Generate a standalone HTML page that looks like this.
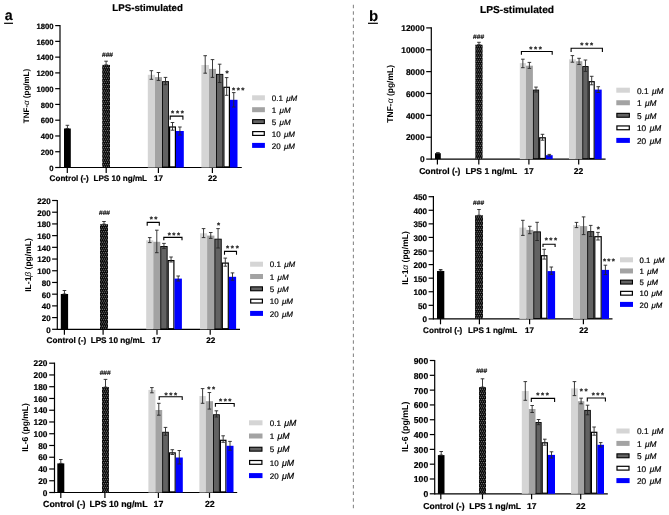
<!DOCTYPE html>
<html><head><meta charset="utf-8"><style>
html,body{margin:0;padding:0;background:#fff;}
body{width:669px;height:515px;overflow:hidden;}
svg{display:block;will-change:transform;}
</style></head><body>
<svg width="669" height="515" viewBox="0 0 669 515" font-family='"Liberation Sans", sans-serif' text-rendering="geometricPrecision">
<defs><pattern id="dots" patternUnits="userSpaceOnUse" width="2.1" height="4.2"><rect width="2.1" height="4.2" fill="#050505"/><circle cx="0.55" cy="0.6" r="0.5" fill="#b0b0b0"/><circle cx="1.6" cy="2.7" r="0.5" fill="#b0b0b0"/></pattern></defs>
<rect width="669" height="515" fill="#fff"/>
<text x="4.8" y="19.8" font-size="14.2" font-weight="bold" text-anchor="start" fill="#000" stroke="#000" stroke-width="0.1" >a</text>
<line x1="4.1" y1="23.3" x2="13" y2="23.3" stroke="#000" stroke-width="1.2" />
<text x="368.9" y="20.6" font-size="15" font-weight="bold" text-anchor="start" fill="#000" stroke="#000" stroke-width="0.1" >b</text>
<line x1="368" y1="23.3" x2="377.9" y2="23.3" stroke="#000" stroke-width="1.2" />
<text x="147.6" y="11.4" font-size="9.7" font-weight="bold" text-anchor="middle" fill="#000" stroke="#000" stroke-width="0.2" >LPS-stimulated</text>
<text x="517" y="12.6" font-size="10.2" font-weight="bold" text-anchor="middle" fill="#000" stroke="#000" stroke-width="0.2" >LPS-stimulated</text>
<line x1="353.4" y1="4.7" x2="353.4" y2="509" stroke="#8a8a8a" stroke-width="1.1" stroke-dasharray="3.5 3.08"/>
<line x1="60" y1="25" x2="60" y2="168.1" stroke="#000" stroke-width="1.2" />
<line x1="55.2" y1="167.5" x2="60" y2="167.5" stroke="#000" stroke-width="1.2" />
<text x="53.6" y="170.77" font-size="7.7" font-weight="bold" text-anchor="end" fill="#000" stroke="#000" stroke-width="0.2" >0</text>
<line x1="55.2" y1="151.73" x2="60" y2="151.73" stroke="#000" stroke-width="1.2" />
<text x="53.6" y="155.01" font-size="7.7" font-weight="bold" text-anchor="end" fill="#000" stroke="#000" stroke-width="0.2" >200</text>
<line x1="55.2" y1="135.97" x2="60" y2="135.97" stroke="#000" stroke-width="1.2" />
<text x="53.6" y="139.24" font-size="7.7" font-weight="bold" text-anchor="end" fill="#000" stroke="#000" stroke-width="0.2" >400</text>
<line x1="55.2" y1="120.2" x2="60" y2="120.2" stroke="#000" stroke-width="1.2" />
<text x="53.6" y="123.47" font-size="7.7" font-weight="bold" text-anchor="end" fill="#000" stroke="#000" stroke-width="0.2" >600</text>
<line x1="55.2" y1="104.43" x2="60" y2="104.43" stroke="#000" stroke-width="1.2" />
<text x="53.6" y="107.71" font-size="7.7" font-weight="bold" text-anchor="end" fill="#000" stroke="#000" stroke-width="0.2" >800</text>
<line x1="55.2" y1="88.67" x2="60" y2="88.67" stroke="#000" stroke-width="1.2" />
<text x="53.6" y="91.94" font-size="7.7" font-weight="bold" text-anchor="end" fill="#000" stroke="#000" stroke-width="0.2" >1000</text>
<line x1="55.2" y1="72.9" x2="60" y2="72.9" stroke="#000" stroke-width="1.2" />
<text x="53.6" y="76.17" font-size="7.7" font-weight="bold" text-anchor="end" fill="#000" stroke="#000" stroke-width="0.2" >1200</text>
<line x1="55.2" y1="57.13" x2="60" y2="57.13" stroke="#000" stroke-width="1.2" />
<text x="53.6" y="60.41" font-size="7.7" font-weight="bold" text-anchor="end" fill="#000" stroke="#000" stroke-width="0.2" >1400</text>
<line x1="55.2" y1="41.37" x2="60" y2="41.37" stroke="#000" stroke-width="1.2" />
<text x="53.6" y="44.64" font-size="7.7" font-weight="bold" text-anchor="end" fill="#000" stroke="#000" stroke-width="0.2" >1600</text>
<line x1="55.2" y1="25.6" x2="60" y2="25.6" stroke="#000" stroke-width="1.2" />
<text x="53.6" y="28.87" font-size="7.7" font-weight="bold" text-anchor="end" fill="#000" stroke="#000" stroke-width="0.2" >1800</text>
<line x1="60" y1="167.5" x2="241.8" y2="167.5" stroke="#000" stroke-width="1.2" />
<line x1="67.3" y1="167.5" x2="67.3" y2="172.9" stroke="#000" stroke-width="1.2" />
<line x1="106.2" y1="167.5" x2="106.2" y2="172.9" stroke="#000" stroke-width="1.2" />
<line x1="158.4" y1="167.5" x2="158.4" y2="172.9" stroke="#000" stroke-width="1.2" />
<line x1="212.4" y1="167.5" x2="212.4" y2="172.9" stroke="#000" stroke-width="1.2" />
<text x="49.6" y="181" font-size="8.1" font-weight="bold" text-anchor="start" fill="#000" stroke="#000" stroke-width="0.2" >Control (-)</text>
<text x="93.5" y="181" font-size="8.1" font-weight="bold" text-anchor="start" fill="#000" stroke="#000" stroke-width="0.2" >LPS 10 ng/mL</text>
<text x="158.4" y="181" font-size="8.1" font-weight="bold" text-anchor="middle" fill="#000" stroke="#000" stroke-width="0.2" >17</text>
<text x="212.5" y="181" font-size="8.1" font-weight="bold" text-anchor="middle" fill="#000" stroke="#000" stroke-width="0.2" >22</text>
<text transform="translate(29,96) rotate(-90)" x="0" y="0" font-size="8" font-weight="bold" text-anchor="middle">TNF-<tspan font-style="italic" font-weight="normal">α</tspan> (pg/mL)</text>
<rect x="64" y="128.5" width="6.8" height="39" fill="#000"/>
<line x1="67.4" y1="125.3" x2="67.4" y2="128.5" stroke="#262626" stroke-width="0.9" />
<line x1="65.6" y1="125.3" x2="69.2" y2="125.3" stroke="#262626" stroke-width="0.9" />
<line x1="65.6" y1="128.5" x2="69.2" y2="128.5" stroke="#262626" stroke-width="0.9" />
<rect x="102.2" y="64.9" width="7.8" height="102.6" fill="url(#dots)"/>
<line x1="106.1" y1="61.2" x2="106.1" y2="64.9" stroke="#262626" stroke-width="0.9" />
<line x1="104.3" y1="61.2" x2="107.9" y2="61.2" stroke="#262626" stroke-width="0.9" />
<line x1="104.3" y1="64.9" x2="107.9" y2="64.9" stroke="#262626" stroke-width="0.9" />
<text x="107.5" y="56.74" font-size="6.6" font-weight="normal" text-anchor="middle" fill="#111" stroke="#111" stroke-width="0.2" >###</text>
<rect x="147.8" y="74.8" width="7.2" height="92.7" fill="#d5d5d5"/>
<line x1="151.4" y1="70.7" x2="151.4" y2="79.3" stroke="#262626" stroke-width="0.9" />
<line x1="149.6" y1="70.7" x2="153.2" y2="70.7" stroke="#262626" stroke-width="0.9" />
<line x1="149.6" y1="79.3" x2="153.2" y2="79.3" stroke="#262626" stroke-width="0.9" />
<rect x="155" y="77.1" width="7" height="90.4" fill="#a3a3a3"/>
<line x1="158.5" y1="72.5" x2="158.5" y2="80.4" stroke="#262626" stroke-width="0.9" />
<line x1="156.7" y1="72.5" x2="160.3" y2="72.5" stroke="#262626" stroke-width="0.9" />
<line x1="156.7" y1="80.4" x2="160.3" y2="80.4" stroke="#262626" stroke-width="0.9" />
<rect x="162.45" y="81.65" width="6.1" height="85.4" fill="#626262" stroke="#000" stroke-width="0.9"/>
<line x1="165.5" y1="77.4" x2="165.5" y2="84.7" stroke="#262626" stroke-width="0.9" />
<line x1="163.7" y1="77.4" x2="167.3" y2="77.4" stroke="#262626" stroke-width="0.9" />
<line x1="163.7" y1="84.7" x2="167.3" y2="84.7" stroke="#262626" stroke-width="0.9" />
<rect x="169.6" y="127" width="5.8" height="39.9" fill="#fff" stroke="#000" stroke-width="1.2"/>
<line x1="172.5" y1="122.5" x2="172.5" y2="130.2" stroke="#262626" stroke-width="0.9" />
<line x1="170.7" y1="122.5" x2="174.3" y2="122.5" stroke="#262626" stroke-width="0.9" />
<line x1="170.7" y1="130.2" x2="174.3" y2="130.2" stroke="#262626" stroke-width="0.9" />
<rect x="176" y="131" width="7.8" height="36.5" fill="#0000ff"/>
<line x1="179.9" y1="127" x2="179.9" y2="135" stroke="#262626" stroke-width="0.9" />
<line x1="178.1" y1="127" x2="181.7" y2="127" stroke="#262626" stroke-width="0.9" />
<line x1="178.1" y1="135" x2="181.7" y2="135" stroke="#262626" stroke-width="0.9" />
<rect x="201.4" y="65" width="7.6" height="102.5" fill="#d5d5d5"/>
<line x1="205.2" y1="55.7" x2="205.2" y2="73.2" stroke="#262626" stroke-width="0.9" />
<line x1="203.4" y1="55.7" x2="207" y2="55.7" stroke="#262626" stroke-width="0.9" />
<line x1="203.4" y1="73.2" x2="207" y2="73.2" stroke="#262626" stroke-width="0.9" />
<rect x="209" y="68.9" width="7" height="98.6" fill="#a3a3a3"/>
<line x1="212.5" y1="59.6" x2="212.5" y2="77.4" stroke="#262626" stroke-width="0.9" />
<line x1="210.7" y1="59.6" x2="214.3" y2="59.6" stroke="#262626" stroke-width="0.9" />
<line x1="210.7" y1="77.4" x2="214.3" y2="77.4" stroke="#262626" stroke-width="0.9" />
<rect x="216.45" y="74.35" width="6.4" height="92.7" fill="#626262" stroke="#000" stroke-width="0.9"/>
<line x1="219.65" y1="64.2" x2="219.65" y2="82.5" stroke="#262626" stroke-width="0.9" />
<line x1="217.85" y1="64.2" x2="221.45" y2="64.2" stroke="#262626" stroke-width="0.9" />
<line x1="217.85" y1="82.5" x2="221.45" y2="82.5" stroke="#262626" stroke-width="0.9" />
<rect x="223.9" y="87.3" width="5.5" height="79.6" fill="#fff" stroke="#000" stroke-width="1.2"/>
<line x1="226.65" y1="77.6" x2="226.65" y2="95.3" stroke="#262626" stroke-width="0.9" />
<line x1="224.85" y1="77.6" x2="228.45" y2="77.6" stroke="#262626" stroke-width="0.9" />
<line x1="224.85" y1="95.3" x2="228.45" y2="95.3" stroke="#262626" stroke-width="0.9" />
<rect x="230" y="99.8" width="7.5" height="67.7" fill="#0000ff"/>
<line x1="233.75" y1="92.6" x2="233.75" y2="107" stroke="#262626" stroke-width="0.9" />
<line x1="231.95" y1="92.6" x2="235.55" y2="92.6" stroke="#262626" stroke-width="0.9" />
<line x1="231.95" y1="107" x2="235.55" y2="107" stroke="#262626" stroke-width="0.9" />
<path d="M170.2 119.8V116.1H182.9V119.8" fill="none" stroke="#000" stroke-width="1.1"/>
<text x="172.6" y="115.9" font-size="8" font-weight="bold" text-anchor="middle" fill="#1a1a1a" stroke="#1a1a1a" stroke-width="0.2" >*</text>
<text x="177.5" y="115.9" font-size="8" font-weight="bold" text-anchor="middle" fill="#1a1a1a" stroke="#1a1a1a" stroke-width="0.2" >*</text>
<text x="182.4" y="115.9" font-size="8" font-weight="bold" text-anchor="middle" fill="#1a1a1a" stroke="#1a1a1a" stroke-width="0.2" >*</text>
<text x="227.1" y="76.3" font-size="8" font-weight="bold" text-anchor="middle" fill="#1a1a1a" stroke="#1a1a1a" stroke-width="0.2" >*</text>
<text x="233.55" y="92.6" font-size="8" font-weight="bold" text-anchor="middle" fill="#1a1a1a" stroke="#1a1a1a" stroke-width="0.2" >*</text>
<text x="238.2" y="92.6" font-size="8" font-weight="bold" text-anchor="middle" fill="#1a1a1a" stroke="#1a1a1a" stroke-width="0.2" >*</text>
<text x="242.85" y="92.6" font-size="8" font-weight="bold" text-anchor="middle" fill="#1a1a1a" stroke="#1a1a1a" stroke-width="0.2" >*</text>
<rect x="252.1" y="95.3" width="12.8" height="5" fill="#d5d5d5"/>
<text x="271.8" y="101.08" font-size="8" fill="#000" stroke="#000" stroke-width="0.2">0.1 <tspan dx="1.04" font-size="8" font-style="italic">μM</tspan></text>
<rect x="252.1" y="107.2" width="12.8" height="5" fill="#a3a3a3"/>
<text x="271.8" y="112.98" font-size="8" fill="#000" stroke="#000" stroke-width="0.2">1 <tspan dx="1.04" font-size="8" font-style="italic">μM</tspan></text>
<rect x="252.65" y="119.65" width="11.7" height="3.9" fill="#626262" stroke="#000" stroke-width="1.1"/>
<text x="271.8" y="124.88" font-size="8" fill="#000" stroke="#000" stroke-width="0.2">5 <tspan dx="1.04" font-size="8" font-style="italic">μM</tspan></text>
<rect x="252.7" y="131.6" width="11.6" height="3.8" fill="#fff" stroke="#000" stroke-width="1.2"/>
<text x="271.8" y="136.78" font-size="8" fill="#000" stroke="#000" stroke-width="0.2">10 <tspan dx="1.04" font-size="8" font-style="italic">μM</tspan></text>
<rect x="252.1" y="142.9" width="12.8" height="5" fill="#0000ff"/>
<text x="271.8" y="148.68" font-size="8" fill="#000" stroke="#000" stroke-width="0.2">20 <tspan dx="1.04" font-size="8" font-style="italic">μM</tspan></text>
<line x1="57.3" y1="199.9" x2="57.3" y2="329.9" stroke="#000" stroke-width="1.2" />
<line x1="52.1" y1="329.3" x2="57.3" y2="329.3" stroke="#000" stroke-width="1.2" />
<text x="50.6" y="332.68" font-size="8" font-weight="bold" text-anchor="end" fill="#000" stroke="#000" stroke-width="0.2" >0</text>
<line x1="52.1" y1="317.59" x2="57.3" y2="317.59" stroke="#000" stroke-width="1.2" />
<text x="50.6" y="320.97" font-size="8" font-weight="bold" text-anchor="end" fill="#000" stroke="#000" stroke-width="0.2" >20</text>
<line x1="52.1" y1="305.88" x2="57.3" y2="305.88" stroke="#000" stroke-width="1.2" />
<text x="50.6" y="309.26" font-size="8" font-weight="bold" text-anchor="end" fill="#000" stroke="#000" stroke-width="0.2" >40</text>
<line x1="52.1" y1="294.17" x2="57.3" y2="294.17" stroke="#000" stroke-width="1.2" />
<text x="50.6" y="297.55" font-size="8" font-weight="bold" text-anchor="end" fill="#000" stroke="#000" stroke-width="0.2" >60</text>
<line x1="52.1" y1="282.46" x2="57.3" y2="282.46" stroke="#000" stroke-width="1.2" />
<text x="50.6" y="285.84" font-size="8" font-weight="bold" text-anchor="end" fill="#000" stroke="#000" stroke-width="0.2" >80</text>
<line x1="52.1" y1="270.75" x2="57.3" y2="270.75" stroke="#000" stroke-width="1.2" />
<text x="50.6" y="274.13" font-size="8" font-weight="bold" text-anchor="end" fill="#000" stroke="#000" stroke-width="0.2" >100</text>
<line x1="52.1" y1="259.05" x2="57.3" y2="259.05" stroke="#000" stroke-width="1.2" />
<text x="50.6" y="262.43" font-size="8" font-weight="bold" text-anchor="end" fill="#000" stroke="#000" stroke-width="0.2" >120</text>
<line x1="52.1" y1="247.34" x2="57.3" y2="247.34" stroke="#000" stroke-width="1.2" />
<text x="50.6" y="250.72" font-size="8" font-weight="bold" text-anchor="end" fill="#000" stroke="#000" stroke-width="0.2" >140</text>
<line x1="52.1" y1="235.63" x2="57.3" y2="235.63" stroke="#000" stroke-width="1.2" />
<text x="50.6" y="239.01" font-size="8" font-weight="bold" text-anchor="end" fill="#000" stroke="#000" stroke-width="0.2" >160</text>
<line x1="52.1" y1="223.92" x2="57.3" y2="223.92" stroke="#000" stroke-width="1.2" />
<text x="50.6" y="227.3" font-size="8" font-weight="bold" text-anchor="end" fill="#000" stroke="#000" stroke-width="0.2" >180</text>
<line x1="52.1" y1="212.21" x2="57.3" y2="212.21" stroke="#000" stroke-width="1.2" />
<text x="50.6" y="215.59" font-size="8" font-weight="bold" text-anchor="end" fill="#000" stroke="#000" stroke-width="0.2" >200</text>
<line x1="52.1" y1="200.5" x2="57.3" y2="200.5" stroke="#000" stroke-width="1.2" />
<text x="50.6" y="203.88" font-size="8" font-weight="bold" text-anchor="end" fill="#000" stroke="#000" stroke-width="0.2" >220</text>
<line x1="57.3" y1="329.3" x2="240" y2="329.3" stroke="#000" stroke-width="1.2" />
<line x1="64.4" y1="329.3" x2="64.4" y2="334.7" stroke="#000" stroke-width="1.2" />
<line x1="103.1" y1="329.3" x2="103.1" y2="334.7" stroke="#000" stroke-width="1.2" />
<line x1="157" y1="329.3" x2="157" y2="334.7" stroke="#000" stroke-width="1.2" />
<line x1="210.2" y1="329.3" x2="210.2" y2="334.7" stroke="#000" stroke-width="1.2" />
<text x="46.6" y="343.3" font-size="8.2" font-weight="bold" text-anchor="start" fill="#000" stroke="#000" stroke-width="0.2" >Control (-)</text>
<text x="90.65" y="343.3" font-size="8.2" font-weight="bold" text-anchor="start" fill="#000" stroke="#000" stroke-width="0.2" >LPS 10 ng/mL</text>
<text x="156.6" y="343.3" font-size="8.2" font-weight="bold" text-anchor="middle" fill="#000" stroke="#000" stroke-width="0.2" >17</text>
<text x="210.85" y="343.3" font-size="8.2" font-weight="bold" text-anchor="middle" fill="#000" stroke="#000" stroke-width="0.2" >22</text>
<text transform="translate(31.4,265) rotate(-90)" x="0" y="0" font-size="8.5" font-weight="bold" text-anchor="middle">IL-1<tspan font-style="italic" font-weight="normal">β</tspan> (pg/mL)</text>
<rect x="60.8" y="294" width="7.3" height="35.3" fill="#000"/>
<line x1="64.45" y1="290.5" x2="64.45" y2="294" stroke="#262626" stroke-width="0.9" />
<line x1="62.65" y1="290.5" x2="66.25" y2="290.5" stroke="#262626" stroke-width="0.9" />
<line x1="62.65" y1="294" x2="66.25" y2="294" stroke="#262626" stroke-width="0.9" />
<rect x="100" y="224.2" width="8" height="105.1" fill="url(#dots)"/>
<line x1="104" y1="221.5" x2="104" y2="224.2" stroke="#262626" stroke-width="0.9" />
<line x1="102.2" y1="221.5" x2="105.8" y2="221.5" stroke="#262626" stroke-width="0.9" />
<line x1="102.2" y1="224.2" x2="105.8" y2="224.2" stroke="#262626" stroke-width="0.9" />
<text x="104.5" y="215.44" font-size="6.6" font-weight="normal" text-anchor="middle" fill="#111" stroke="#111" stroke-width="0.2" >###</text>
<rect x="146.2" y="240.3" width="7.1" height="89" fill="#d5d5d5"/>
<line x1="149.75" y1="237.6" x2="149.75" y2="242.6" stroke="#262626" stroke-width="0.9" />
<line x1="147.95" y1="237.6" x2="151.55" y2="237.6" stroke="#262626" stroke-width="0.9" />
<line x1="147.95" y1="242.6" x2="151.55" y2="242.6" stroke="#262626" stroke-width="0.9" />
<rect x="153.3" y="241.8" width="7" height="87.5" fill="#a3a3a3"/>
<line x1="156.8" y1="230.2" x2="156.8" y2="252.7" stroke="#262626" stroke-width="0.9" />
<line x1="155" y1="230.2" x2="158.6" y2="230.2" stroke="#262626" stroke-width="0.9" />
<line x1="155" y1="252.7" x2="158.6" y2="252.7" stroke="#262626" stroke-width="0.9" />
<rect x="160.75" y="246.45" width="6.4" height="82.4" fill="#626262" stroke="#000" stroke-width="0.9"/>
<line x1="163.95" y1="243.4" x2="163.95" y2="248.4" stroke="#262626" stroke-width="0.9" />
<line x1="162.15" y1="243.4" x2="165.75" y2="243.4" stroke="#262626" stroke-width="0.9" />
<line x1="162.15" y1="248.4" x2="165.75" y2="248.4" stroke="#262626" stroke-width="0.9" />
<rect x="168.2" y="260.6" width="5.7" height="68.1" fill="#fff" stroke="#000" stroke-width="1.2"/>
<line x1="171.05" y1="257" x2="171.05" y2="262" stroke="#262626" stroke-width="0.9" />
<line x1="169.25" y1="257" x2="172.85" y2="257" stroke="#262626" stroke-width="0.9" />
<line x1="169.25" y1="262" x2="172.85" y2="262" stroke="#262626" stroke-width="0.9" />
<rect x="174.5" y="278.6" width="7.4" height="50.7" fill="#0000ff"/>
<line x1="178.2" y1="276" x2="178.2" y2="281" stroke="#262626" stroke-width="0.9" />
<line x1="176.4" y1="276" x2="180" y2="276" stroke="#262626" stroke-width="0.9" />
<line x1="176.4" y1="281" x2="180" y2="281" stroke="#262626" stroke-width="0.9" />
<rect x="200" y="233.3" width="7.1" height="96" fill="#d5d5d5"/>
<line x1="203.55" y1="228.6" x2="203.55" y2="237.6" stroke="#262626" stroke-width="0.9" />
<line x1="201.75" y1="228.6" x2="205.35" y2="228.6" stroke="#262626" stroke-width="0.9" />
<line x1="201.75" y1="237.6" x2="205.35" y2="237.6" stroke="#262626" stroke-width="0.9" />
<rect x="207.1" y="235.6" width="7.3" height="93.7" fill="#a3a3a3"/>
<line x1="210.75" y1="232.5" x2="210.75" y2="238.4" stroke="#262626" stroke-width="0.9" />
<line x1="208.95" y1="232.5" x2="212.55" y2="232.5" stroke="#262626" stroke-width="0.9" />
<line x1="208.95" y1="238.4" x2="212.55" y2="238.4" stroke="#262626" stroke-width="0.9" />
<rect x="214.85" y="239.15" width="6.4" height="89.7" fill="#626262" stroke="#000" stroke-width="0.9"/>
<line x1="218.05" y1="228.6" x2="218.05" y2="248" stroke="#262626" stroke-width="0.9" />
<line x1="216.25" y1="228.6" x2="219.85" y2="228.6" stroke="#262626" stroke-width="0.9" />
<line x1="216.25" y1="248" x2="219.85" y2="248" stroke="#262626" stroke-width="0.9" />
<rect x="222.3" y="263.1" width="6" height="65.6" fill="#fff" stroke="#000" stroke-width="1.2"/>
<line x1="225.3" y1="258.1" x2="225.3" y2="266.2" stroke="#262626" stroke-width="0.9" />
<line x1="223.5" y1="258.1" x2="227.1" y2="258.1" stroke="#262626" stroke-width="0.9" />
<line x1="223.5" y1="266.2" x2="227.1" y2="266.2" stroke="#262626" stroke-width="0.9" />
<rect x="228.9" y="276.8" width="7.2" height="52.5" fill="#0000ff"/>
<line x1="232.5" y1="272.9" x2="232.5" y2="280.2" stroke="#262626" stroke-width="0.9" />
<line x1="230.7" y1="272.9" x2="234.3" y2="272.9" stroke="#262626" stroke-width="0.9" />
<line x1="230.7" y1="280.2" x2="234.3" y2="280.2" stroke="#262626" stroke-width="0.9" />
<path d="M147.2 225.8V222.4H159.3V225.8" fill="none" stroke="#000" stroke-width="1.1"/>
<text x="151.4" y="222.4" font-size="8" font-weight="bold" text-anchor="middle" fill="#1a1a1a" stroke="#1a1a1a" stroke-width="0.2" >*</text>
<text x="155.8" y="222.4" font-size="8" font-weight="bold" text-anchor="middle" fill="#1a1a1a" stroke="#1a1a1a" stroke-width="0.2" >*</text>
<path d="M163.8 240.2V237.4H182V240.2" fill="none" stroke="#000" stroke-width="1.1"/>
<text x="169.25" y="237.9" font-size="8" font-weight="bold" text-anchor="middle" fill="#1a1a1a" stroke="#1a1a1a" stroke-width="0.2" >*</text>
<text x="173.9" y="237.9" font-size="8" font-weight="bold" text-anchor="middle" fill="#1a1a1a" stroke="#1a1a1a" stroke-width="0.2" >*</text>
<text x="178.55" y="237.9" font-size="8" font-weight="bold" text-anchor="middle" fill="#1a1a1a" stroke="#1a1a1a" stroke-width="0.2" >*</text>
<text x="218.6" y="227.7" font-size="8" font-weight="bold" text-anchor="middle" fill="#1a1a1a" stroke="#1a1a1a" stroke-width="0.2" >*</text>
<path d="M224.5 254.7V251.4H236.5V254.7" fill="none" stroke="#000" stroke-width="1.1"/>
<text x="227.5" y="251" font-size="8" font-weight="bold" text-anchor="middle" fill="#1a1a1a" stroke="#1a1a1a" stroke-width="0.2" >*</text>
<text x="232.4" y="251" font-size="8" font-weight="bold" text-anchor="middle" fill="#1a1a1a" stroke="#1a1a1a" stroke-width="0.2" >*</text>
<text x="237.3" y="251" font-size="8" font-weight="bold" text-anchor="middle" fill="#1a1a1a" stroke="#1a1a1a" stroke-width="0.2" >*</text>
<rect x="250.1" y="261.7" width="12.9" height="5" fill="#d5d5d5"/>
<text x="269.8" y="267.48" font-size="8" fill="#000" stroke="#000" stroke-width="0.2">0.1 <tspan dx="1.04" font-size="8" font-style="italic">μM</tspan></text>
<rect x="250.1" y="274" width="12.9" height="5" fill="#a3a3a3"/>
<text x="269.8" y="279.78" font-size="8" fill="#000" stroke="#000" stroke-width="0.2">1 <tspan dx="1.04" font-size="8" font-style="italic">μM</tspan></text>
<rect x="250.65" y="286.85" width="11.8" height="3.9" fill="#626262" stroke="#000" stroke-width="1.1"/>
<text x="269.8" y="292.08" font-size="8" fill="#000" stroke="#000" stroke-width="0.2">5 <tspan dx="1.04" font-size="8" font-style="italic">μM</tspan></text>
<rect x="250.7" y="299.2" width="11.7" height="3.8" fill="#fff" stroke="#000" stroke-width="1.2"/>
<text x="269.8" y="304.38" font-size="8" fill="#000" stroke="#000" stroke-width="0.2">10 <tspan dx="1.04" font-size="8" font-style="italic">μM</tspan></text>
<rect x="250.1" y="310.9" width="12.9" height="5" fill="#0000ff"/>
<text x="269.8" y="316.68" font-size="8" fill="#000" stroke="#000" stroke-width="0.2">20 <tspan dx="1.04" font-size="8" font-style="italic">μM</tspan></text>
<line x1="54.5" y1="362.6" x2="54.5" y2="493.1" stroke="#000" stroke-width="1.2" />
<line x1="49.2" y1="492.5" x2="54.5" y2="492.5" stroke="#000" stroke-width="1.2" />
<text x="47.4" y="495.59" font-size="8.3" font-weight="bold" text-anchor="end" fill="#000" stroke="#000" stroke-width="0.2" >0</text>
<line x1="49.2" y1="480.75" x2="54.5" y2="480.75" stroke="#000" stroke-width="1.2" />
<text x="47.4" y="483.83" font-size="8.3" font-weight="bold" text-anchor="end" fill="#000" stroke="#000" stroke-width="0.2" >20</text>
<line x1="49.2" y1="468.99" x2="54.5" y2="468.99" stroke="#000" stroke-width="1.2" />
<text x="47.4" y="472.08" font-size="8.3" font-weight="bold" text-anchor="end" fill="#000" stroke="#000" stroke-width="0.2" >40</text>
<line x1="49.2" y1="457.24" x2="54.5" y2="457.24" stroke="#000" stroke-width="1.2" />
<text x="47.4" y="460.32" font-size="8.3" font-weight="bold" text-anchor="end" fill="#000" stroke="#000" stroke-width="0.2" >60</text>
<line x1="49.2" y1="445.48" x2="54.5" y2="445.48" stroke="#000" stroke-width="1.2" />
<text x="47.4" y="448.57" font-size="8.3" font-weight="bold" text-anchor="end" fill="#000" stroke="#000" stroke-width="0.2" >80</text>
<line x1="49.2" y1="433.73" x2="54.5" y2="433.73" stroke="#000" stroke-width="1.2" />
<text x="47.4" y="436.82" font-size="8.3" font-weight="bold" text-anchor="end" fill="#000" stroke="#000" stroke-width="0.2" >100</text>
<line x1="49.2" y1="421.97" x2="54.5" y2="421.97" stroke="#000" stroke-width="1.2" />
<text x="47.4" y="425.06" font-size="8.3" font-weight="bold" text-anchor="end" fill="#000" stroke="#000" stroke-width="0.2" >120</text>
<line x1="49.2" y1="410.22" x2="54.5" y2="410.22" stroke="#000" stroke-width="1.2" />
<text x="47.4" y="413.31" font-size="8.3" font-weight="bold" text-anchor="end" fill="#000" stroke="#000" stroke-width="0.2" >140</text>
<line x1="49.2" y1="398.46" x2="54.5" y2="398.46" stroke="#000" stroke-width="1.2" />
<text x="47.4" y="401.55" font-size="8.3" font-weight="bold" text-anchor="end" fill="#000" stroke="#000" stroke-width="0.2" >160</text>
<line x1="49.2" y1="386.71" x2="54.5" y2="386.71" stroke="#000" stroke-width="1.2" />
<text x="47.4" y="389.8" font-size="8.3" font-weight="bold" text-anchor="end" fill="#000" stroke="#000" stroke-width="0.2" >180</text>
<line x1="49.2" y1="374.95" x2="54.5" y2="374.95" stroke="#000" stroke-width="1.2" />
<text x="47.4" y="378.04" font-size="8.3" font-weight="bold" text-anchor="end" fill="#000" stroke="#000" stroke-width="0.2" >200</text>
<line x1="49.2" y1="363.2" x2="54.5" y2="363.2" stroke="#000" stroke-width="1.2" />
<text x="47.4" y="366.29" font-size="8.3" font-weight="bold" text-anchor="end" fill="#000" stroke="#000" stroke-width="0.2" >220</text>
<line x1="54.5" y1="492.5" x2="237.2" y2="492.5" stroke="#000" stroke-width="1.2" />
<line x1="60.8" y1="492.5" x2="60.8" y2="497.9" stroke="#000" stroke-width="1.2" />
<line x1="104.9" y1="492.5" x2="104.9" y2="497.9" stroke="#000" stroke-width="1.2" />
<line x1="158.4" y1="492.5" x2="158.4" y2="497.9" stroke="#000" stroke-width="1.2" />
<line x1="209.5" y1="492.5" x2="209.5" y2="497.9" stroke="#000" stroke-width="1.2" />
<text x="43.05" y="507" font-size="8.8" font-weight="bold" text-anchor="start" fill="#000" stroke="#000" stroke-width="0.2" >Control (-)</text>
<text x="89.4" y="507" font-size="8.8" font-weight="bold" text-anchor="start" fill="#000" stroke="#000" stroke-width="0.2" >LPS 10 ng/mL</text>
<text x="158.45" y="507" font-size="8.8" font-weight="bold" text-anchor="middle" fill="#000" stroke="#000" stroke-width="0.2" >17</text>
<text x="209.85" y="507" font-size="8.8" font-weight="bold" text-anchor="middle" fill="#000" stroke="#000" stroke-width="0.2" >22</text>
<text transform="translate(27.5,427.5) rotate(-90)" x="0" y="0" font-size="8.5" font-weight="bold" text-anchor="middle">IL-6 (pg/mL)</text>
<rect x="57.3" y="463.4" width="7" height="29.1" fill="#000"/>
<line x1="60.8" y1="459.5" x2="60.8" y2="463.4" stroke="#262626" stroke-width="0.9" />
<line x1="59" y1="459.5" x2="62.6" y2="459.5" stroke="#262626" stroke-width="0.9" />
<line x1="59" y1="463.4" x2="62.6" y2="463.4" stroke="#262626" stroke-width="0.9" />
<rect x="102" y="387.1" width="7" height="105.4" fill="url(#dots)"/>
<line x1="105.5" y1="379.4" x2="105.5" y2="387.1" stroke="#262626" stroke-width="0.9" />
<line x1="103.7" y1="379.4" x2="107.3" y2="379.4" stroke="#262626" stroke-width="0.9" />
<line x1="103.7" y1="387.1" x2="107.3" y2="387.1" stroke="#262626" stroke-width="0.9" />
<text x="105.2" y="375.44" font-size="6.6" font-weight="normal" text-anchor="middle" fill="#111" stroke="#111" stroke-width="0.2" >###</text>
<rect x="148.4" y="389.9" width="7" height="102.6" fill="#d5d5d5"/>
<line x1="151.9" y1="387.6" x2="151.9" y2="392.8" stroke="#262626" stroke-width="0.9" />
<line x1="150.1" y1="387.6" x2="153.7" y2="387.6" stroke="#262626" stroke-width="0.9" />
<line x1="150.1" y1="392.8" x2="153.7" y2="392.8" stroke="#262626" stroke-width="0.9" />
<rect x="155.4" y="410" width="6.8" height="82.5" fill="#a3a3a3"/>
<line x1="158.8" y1="403.3" x2="158.8" y2="415.2" stroke="#262626" stroke-width="0.9" />
<line x1="157" y1="403.3" x2="160.6" y2="403.3" stroke="#262626" stroke-width="0.9" />
<line x1="157" y1="415.2" x2="160.6" y2="415.2" stroke="#262626" stroke-width="0.9" />
<rect x="162.65" y="432.25" width="5.7" height="59.8" fill="#626262" stroke="#000" stroke-width="0.9"/>
<line x1="165.5" y1="427.4" x2="165.5" y2="435.3" stroke="#262626" stroke-width="0.9" />
<line x1="163.7" y1="427.4" x2="167.3" y2="427.4" stroke="#262626" stroke-width="0.9" />
<line x1="163.7" y1="435.3" x2="167.3" y2="435.3" stroke="#262626" stroke-width="0.9" />
<rect x="169.4" y="452.9" width="5.8" height="39" fill="#fff" stroke="#000" stroke-width="1.2"/>
<line x1="172.3" y1="449.7" x2="172.3" y2="454.5" stroke="#262626" stroke-width="0.9" />
<line x1="170.5" y1="449.7" x2="174.1" y2="449.7" stroke="#262626" stroke-width="0.9" />
<line x1="170.5" y1="454.5" x2="174.1" y2="454.5" stroke="#262626" stroke-width="0.9" />
<rect x="175.8" y="457.5" width="7" height="35" fill="#0000ff"/>
<line x1="179.3" y1="450.5" x2="179.3" y2="464" stroke="#262626" stroke-width="0.9" />
<line x1="177.5" y1="450.5" x2="181.1" y2="450.5" stroke="#262626" stroke-width="0.9" />
<line x1="177.5" y1="464" x2="181.1" y2="464" stroke="#262626" stroke-width="0.9" />
<rect x="199.4" y="396" width="6.4" height="96.5" fill="#d5d5d5"/>
<line x1="202.6" y1="388.6" x2="202.6" y2="403.3" stroke="#262626" stroke-width="0.9" />
<line x1="200.8" y1="388.6" x2="204.4" y2="388.6" stroke="#262626" stroke-width="0.9" />
<line x1="200.8" y1="403.3" x2="204.4" y2="403.3" stroke="#262626" stroke-width="0.9" />
<rect x="205.8" y="401.2" width="7.2" height="91.3" fill="#a3a3a3"/>
<line x1="209.4" y1="392.5" x2="209.4" y2="409.1" stroke="#262626" stroke-width="0.9" />
<line x1="207.6" y1="392.5" x2="211.2" y2="392.5" stroke="#262626" stroke-width="0.9" />
<line x1="207.6" y1="409.1" x2="211.2" y2="409.1" stroke="#262626" stroke-width="0.9" />
<rect x="213.45" y="414.75" width="5.9" height="77.3" fill="#626262" stroke="#000" stroke-width="0.9"/>
<line x1="216.4" y1="410.8" x2="216.4" y2="417" stroke="#262626" stroke-width="0.9" />
<line x1="214.6" y1="410.8" x2="218.2" y2="410.8" stroke="#262626" stroke-width="0.9" />
<line x1="214.6" y1="417" x2="218.2" y2="417" stroke="#262626" stroke-width="0.9" />
<rect x="220.4" y="440.3" width="5.5" height="51.6" fill="#fff" stroke="#000" stroke-width="1.2"/>
<line x1="223.15" y1="435.8" x2="223.15" y2="442.3" stroke="#262626" stroke-width="0.9" />
<line x1="221.35" y1="435.8" x2="224.95" y2="435.8" stroke="#262626" stroke-width="0.9" />
<line x1="221.35" y1="442.3" x2="224.95" y2="442.3" stroke="#262626" stroke-width="0.9" />
<rect x="226.5" y="445.8" width="7" height="46.7" fill="#0000ff"/>
<line x1="230" y1="441.4" x2="230" y2="450.2" stroke="#262626" stroke-width="0.9" />
<line x1="228.2" y1="441.4" x2="231.8" y2="441.4" stroke="#262626" stroke-width="0.9" />
<line x1="228.2" y1="450.2" x2="231.8" y2="450.2" stroke="#262626" stroke-width="0.9" />
<path d="M159.2 400V396.7H182.2V400" fill="none" stroke="#000" stroke-width="1.1"/>
<text x="166.15" y="397.5" font-size="8" font-weight="bold" text-anchor="middle" fill="#1a1a1a" stroke="#1a1a1a" stroke-width="0.2" >*</text>
<text x="170.8" y="397.5" font-size="8" font-weight="bold" text-anchor="middle" fill="#1a1a1a" stroke="#1a1a1a" stroke-width="0.2" >*</text>
<text x="175.45" y="397.5" font-size="8" font-weight="bold" text-anchor="middle" fill="#1a1a1a" stroke="#1a1a1a" stroke-width="0.2" >*</text>
<text x="208.7" y="392" font-size="8" font-weight="bold" text-anchor="middle" fill="#1a1a1a" stroke="#1a1a1a" stroke-width="0.2" >*</text>
<text x="213.5" y="392" font-size="8" font-weight="bold" text-anchor="middle" fill="#1a1a1a" stroke="#1a1a1a" stroke-width="0.2" >*</text>
<path d="M215.4 406.7V403.5H234.2V406.7" fill="none" stroke="#000" stroke-width="1.1"/>
<text x="220.55" y="403.9" font-size="8" font-weight="bold" text-anchor="middle" fill="#1a1a1a" stroke="#1a1a1a" stroke-width="0.2" >*</text>
<text x="225.2" y="403.9" font-size="8" font-weight="bold" text-anchor="middle" fill="#1a1a1a" stroke="#1a1a1a" stroke-width="0.2" >*</text>
<text x="229.85" y="403.9" font-size="8" font-weight="bold" text-anchor="middle" fill="#1a1a1a" stroke="#1a1a1a" stroke-width="0.2" >*</text>
<rect x="249" y="420.3" width="13.5" height="5" fill="#d5d5d5"/>
<text x="269.8" y="426.08" font-size="8" fill="#000" stroke="#000" stroke-width="0.2">0.1 <tspan dx="1.04" font-size="8.8" font-style="italic">μM</tspan></text>
<rect x="249" y="433.5" width="13.5" height="5" fill="#a3a3a3"/>
<text x="269.8" y="439.28" font-size="8" fill="#000" stroke="#000" stroke-width="0.2">1 <tspan dx="1.04" font-size="8.8" font-style="italic">μM</tspan></text>
<rect x="249.55" y="447.25" width="12.4" height="3.9" fill="#626262" stroke="#000" stroke-width="1.1"/>
<text x="269.8" y="452.48" font-size="8" fill="#000" stroke="#000" stroke-width="0.2">5 <tspan dx="1.04" font-size="8.8" font-style="italic">μM</tspan></text>
<rect x="249.6" y="460.5" width="12.3" height="3.8" fill="#fff" stroke="#000" stroke-width="1.2"/>
<text x="269.8" y="465.68" font-size="8" fill="#000" stroke="#000" stroke-width="0.2">10 <tspan dx="1.04" font-size="8.8" font-style="italic">μM</tspan></text>
<rect x="249" y="473.1" width="13.5" height="5" fill="#0000ff"/>
<text x="269.8" y="478.88" font-size="8" fill="#000" stroke="#000" stroke-width="0.2">20 <tspan dx="1.04" font-size="8.8" font-style="italic">μM</tspan></text>
<line x1="431.3" y1="27.3" x2="431.3" y2="159.7" stroke="#000" stroke-width="1.2" />
<line x1="426.2" y1="159.1" x2="431.3" y2="159.1" stroke="#000" stroke-width="1.2" />
<text x="424.6" y="162.32" font-size="8.4" font-weight="bold" text-anchor="end" fill="#000" stroke="#000" stroke-width="0.2" >0</text>
<line x1="426.2" y1="137.23" x2="431.3" y2="137.23" stroke="#000" stroke-width="1.2" />
<text x="424.6" y="140.46" font-size="8.4" font-weight="bold" text-anchor="end" fill="#000" stroke="#000" stroke-width="0.2" >2000</text>
<line x1="426.2" y1="115.37" x2="431.3" y2="115.37" stroke="#000" stroke-width="1.2" />
<text x="424.6" y="118.59" font-size="8.4" font-weight="bold" text-anchor="end" fill="#000" stroke="#000" stroke-width="0.2" >4000</text>
<line x1="426.2" y1="93.5" x2="431.3" y2="93.5" stroke="#000" stroke-width="1.2" />
<text x="424.6" y="96.72" font-size="8.4" font-weight="bold" text-anchor="end" fill="#000" stroke="#000" stroke-width="0.2" >6000</text>
<line x1="426.2" y1="71.63" x2="431.3" y2="71.63" stroke="#000" stroke-width="1.2" />
<text x="424.6" y="74.86" font-size="8.4" font-weight="bold" text-anchor="end" fill="#000" stroke="#000" stroke-width="0.2" >8000</text>
<line x1="426.2" y1="49.77" x2="431.3" y2="49.77" stroke="#000" stroke-width="1.2" />
<text x="424.6" y="52.99" font-size="8.4" font-weight="bold" text-anchor="end" fill="#000" stroke="#000" stroke-width="0.2" >10000</text>
<line x1="426.2" y1="27.9" x2="431.3" y2="27.9" stroke="#000" stroke-width="1.2" />
<text x="424.6" y="31.12" font-size="8.4" font-weight="bold" text-anchor="end" fill="#000" stroke="#000" stroke-width="0.2" >12000</text>
<line x1="431.3" y1="159.1" x2="605.6" y2="159.1" stroke="#000" stroke-width="1.2" />
<line x1="437.4" y1="159.1" x2="437.4" y2="164.5" stroke="#000" stroke-width="1.2" />
<line x1="478.8" y1="159.1" x2="478.8" y2="164.5" stroke="#000" stroke-width="1.2" />
<line x1="528.9" y1="159.1" x2="528.9" y2="164.5" stroke="#000" stroke-width="1.2" />
<line x1="578.7" y1="159.1" x2="578.7" y2="164.5" stroke="#000" stroke-width="1.2" />
<text x="419.15" y="174" font-size="8.55" font-weight="bold" text-anchor="start" fill="#000" stroke="#000" stroke-width="0.2" >Control (-)</text>
<text x="465.4" y="174" font-size="8.55" font-weight="bold" text-anchor="start" fill="#000" stroke="#000" stroke-width="0.2" >LPS 1 ng/mL</text>
<text x="529.1" y="174" font-size="8.55" font-weight="bold" text-anchor="middle" fill="#000" stroke="#000" stroke-width="0.2" >17</text>
<text x="578.5" y="174" font-size="8.55" font-weight="bold" text-anchor="middle" fill="#000" stroke="#000" stroke-width="0.2" >22</text>
<text transform="translate(393.3,93.8) rotate(-90)" x="0" y="0" font-size="8.5" font-weight="bold" text-anchor="middle">TNF-<tspan font-style="italic" font-weight="normal">α</tspan> (pg/mL)</text>
<rect x="435" y="153.2" width="5.8" height="5.9" fill="#000"/>
<line x1="437.9" y1="152.7" x2="437.9" y2="153.2" stroke="#262626" stroke-width="0.9" />
<line x1="436.1" y1="152.7" x2="439.7" y2="152.7" stroke="#262626" stroke-width="0.9" />
<line x1="436.1" y1="153.2" x2="439.7" y2="153.2" stroke="#262626" stroke-width="0.9" />
<rect x="475.3" y="44.7" width="7.3" height="114.4" fill="url(#dots)"/>
<line x1="478.95" y1="42.3" x2="478.95" y2="44.7" stroke="#262626" stroke-width="0.9" />
<line x1="477.15" y1="42.3" x2="480.75" y2="42.3" stroke="#262626" stroke-width="0.9" />
<line x1="477.15" y1="44.7" x2="480.75" y2="44.7" stroke="#262626" stroke-width="0.9" />
<text x="478.6" y="38.54" font-size="6.6" font-weight="normal" text-anchor="middle" fill="#111" stroke="#111" stroke-width="0.2" >###</text>
<rect x="519.8" y="63.1" width="6.1" height="96" fill="#d5d5d5"/>
<line x1="522.85" y1="59.2" x2="522.85" y2="67.7" stroke="#262626" stroke-width="0.9" />
<line x1="521.05" y1="59.2" x2="524.65" y2="59.2" stroke="#262626" stroke-width="0.9" />
<line x1="521.05" y1="67.7" x2="524.65" y2="67.7" stroke="#262626" stroke-width="0.9" />
<rect x="525.9" y="65.7" width="7" height="93.4" fill="#a3a3a3"/>
<line x1="529.4" y1="62.4" x2="529.4" y2="68.4" stroke="#262626" stroke-width="0.9" />
<line x1="527.6" y1="62.4" x2="531.2" y2="62.4" stroke="#262626" stroke-width="0.9" />
<line x1="527.6" y1="68.4" x2="531.2" y2="68.4" stroke="#262626" stroke-width="0.9" />
<rect x="533.35" y="90.05" width="5.3" height="68.6" fill="#626262" stroke="#000" stroke-width="0.9"/>
<line x1="536" y1="87.1" x2="536" y2="92" stroke="#262626" stroke-width="0.9" />
<line x1="534.2" y1="87.1" x2="537.8" y2="87.1" stroke="#262626" stroke-width="0.9" />
<line x1="534.2" y1="92" x2="537.8" y2="92" stroke="#262626" stroke-width="0.9" />
<rect x="539.7" y="137.8" width="5.6" height="20.7" fill="#fff" stroke="#000" stroke-width="1.2"/>
<line x1="542.5" y1="134.3" x2="542.5" y2="140.2" stroke="#262626" stroke-width="0.9" />
<line x1="540.7" y1="134.3" x2="544.3" y2="134.3" stroke="#262626" stroke-width="0.9" />
<line x1="540.7" y1="140.2" x2="544.3" y2="140.2" stroke="#262626" stroke-width="0.9" />
<rect x="545.9" y="155.2" width="6.8" height="3.9" fill="#0000ff"/>
<line x1="549.3" y1="154.4" x2="549.3" y2="156" stroke="#262626" stroke-width="0.9" />
<line x1="547.5" y1="154.4" x2="551.1" y2="154.4" stroke="#262626" stroke-width="0.9" />
<line x1="547.5" y1="156" x2="551.1" y2="156" stroke="#262626" stroke-width="0.9" />
<rect x="569" y="59.3" width="6.8" height="99.8" fill="#d5d5d5"/>
<line x1="572.4" y1="55.6" x2="572.4" y2="62.2" stroke="#262626" stroke-width="0.9" />
<line x1="570.6" y1="55.6" x2="574.2" y2="55.6" stroke="#262626" stroke-width="0.9" />
<line x1="570.6" y1="62.2" x2="574.2" y2="62.2" stroke="#262626" stroke-width="0.9" />
<rect x="575.8" y="61.2" width="6.5" height="97.9" fill="#a3a3a3"/>
<line x1="579.05" y1="58.3" x2="579.05" y2="64.5" stroke="#262626" stroke-width="0.9" />
<line x1="577.25" y1="58.3" x2="580.85" y2="58.3" stroke="#262626" stroke-width="0.9" />
<line x1="577.25" y1="64.5" x2="580.85" y2="64.5" stroke="#262626" stroke-width="0.9" />
<rect x="582.75" y="66.55" width="5.4" height="92.1" fill="#626262" stroke="#000" stroke-width="0.9"/>
<line x1="585.45" y1="60" x2="585.45" y2="71.4" stroke="#262626" stroke-width="0.9" />
<line x1="583.65" y1="60" x2="587.25" y2="60" stroke="#262626" stroke-width="0.9" />
<line x1="583.65" y1="71.4" x2="587.25" y2="71.4" stroke="#262626" stroke-width="0.9" />
<rect x="589.2" y="81.7" width="5" height="76.8" fill="#fff" stroke="#000" stroke-width="1.2"/>
<line x1="591.7" y1="76.3" x2="591.7" y2="84.8" stroke="#262626" stroke-width="0.9" />
<line x1="589.9" y1="76.3" x2="593.5" y2="76.3" stroke="#262626" stroke-width="0.9" />
<line x1="589.9" y1="84.8" x2="593.5" y2="84.8" stroke="#262626" stroke-width="0.9" />
<rect x="594.8" y="89.6" width="6.9" height="69.5" fill="#0000ff"/>
<line x1="598.25" y1="86.7" x2="598.25" y2="92.5" stroke="#262626" stroke-width="0.9" />
<line x1="596.45" y1="86.7" x2="600.05" y2="86.7" stroke="#262626" stroke-width="0.9" />
<line x1="596.45" y1="92.5" x2="600.05" y2="92.5" stroke="#262626" stroke-width="0.9" />
<path d="M521.4 54.8V51.5H552.2V54.8" fill="none" stroke="#000" stroke-width="1.1"/>
<text x="530.9" y="51.5" font-size="8" font-weight="bold" text-anchor="middle" fill="#1a1a1a" stroke="#1a1a1a" stroke-width="0.2" >*</text>
<text x="535.6" y="51.5" font-size="8" font-weight="bold" text-anchor="middle" fill="#1a1a1a" stroke="#1a1a1a" stroke-width="0.2" >*</text>
<text x="540.3" y="51.5" font-size="8" font-weight="bold" text-anchor="middle" fill="#1a1a1a" stroke="#1a1a1a" stroke-width="0.2" >*</text>
<path d="M571.1 51.9V48.2H602.4V51.9" fill="none" stroke="#000" stroke-width="1.1"/>
<text x="581.75" y="48.4" font-size="8" font-weight="bold" text-anchor="middle" fill="#1a1a1a" stroke="#1a1a1a" stroke-width="0.2" >*</text>
<text x="586.7" y="48.4" font-size="8" font-weight="bold" text-anchor="middle" fill="#1a1a1a" stroke="#1a1a1a" stroke-width="0.2" >*</text>
<text x="591.65" y="48.4" font-size="8" font-weight="bold" text-anchor="middle" fill="#1a1a1a" stroke="#1a1a1a" stroke-width="0.2" >*</text>
<rect x="616.3" y="87.7" width="13.6" height="5" fill="#d5d5d5"/>
<text x="637" y="93.6" font-size="8.3" fill="#000" stroke="#000" stroke-width="0.2">0.1 <tspan dx="1.08" font-size="8.3" font-style="italic">μM</tspan></text>
<rect x="616.3" y="100.25" width="13.6" height="5" fill="#a3a3a3"/>
<text x="637" y="106.15" font-size="8.3" fill="#000" stroke="#000" stroke-width="0.2">1 <tspan dx="1.08" font-size="8.3" font-style="italic">μM</tspan></text>
<rect x="616.85" y="113.35" width="12.5" height="3.9" fill="#626262" stroke="#000" stroke-width="1.1"/>
<text x="637" y="118.7" font-size="8.3" fill="#000" stroke="#000" stroke-width="0.2">5 <tspan dx="1.08" font-size="8.3" font-style="italic">μM</tspan></text>
<rect x="616.9" y="125.95" width="12.4" height="3.8" fill="#fff" stroke="#000" stroke-width="1.2"/>
<text x="637" y="131.25" font-size="8.3" fill="#000" stroke="#000" stroke-width="0.2">10 <tspan dx="1.08" font-size="8.3" font-style="italic">μM</tspan></text>
<rect x="616.3" y="137.9" width="13.6" height="5" fill="#0000ff"/>
<text x="637" y="143.8" font-size="8.3" fill="#000" stroke="#000" stroke-width="0.2">20 <tspan dx="1.08" font-size="8.3" font-style="italic">μM</tspan></text>
<line x1="433.4" y1="196.1" x2="433.4" y2="319.5" stroke="#000" stroke-width="1.2" />
<line x1="428.6" y1="318.9" x2="433.4" y2="318.9" stroke="#000" stroke-width="1.2" />
<text x="426.9" y="322.42" font-size="8.1" font-weight="bold" text-anchor="end" fill="#000" stroke="#000" stroke-width="0.2" >0</text>
<line x1="428.6" y1="305.32" x2="433.4" y2="305.32" stroke="#000" stroke-width="1.2" />
<text x="426.9" y="308.84" font-size="8.1" font-weight="bold" text-anchor="end" fill="#000" stroke="#000" stroke-width="0.2" >50</text>
<line x1="428.6" y1="291.74" x2="433.4" y2="291.74" stroke="#000" stroke-width="1.2" />
<text x="426.9" y="295.26" font-size="8.1" font-weight="bold" text-anchor="end" fill="#000" stroke="#000" stroke-width="0.2" >100</text>
<line x1="428.6" y1="278.17" x2="433.4" y2="278.17" stroke="#000" stroke-width="1.2" />
<text x="426.9" y="281.68" font-size="8.1" font-weight="bold" text-anchor="end" fill="#000" stroke="#000" stroke-width="0.2" >150</text>
<line x1="428.6" y1="264.59" x2="433.4" y2="264.59" stroke="#000" stroke-width="1.2" />
<text x="426.9" y="268.1" font-size="8.1" font-weight="bold" text-anchor="end" fill="#000" stroke="#000" stroke-width="0.2" >200</text>
<line x1="428.6" y1="251.01" x2="433.4" y2="251.01" stroke="#000" stroke-width="1.2" />
<text x="426.9" y="254.53" font-size="8.1" font-weight="bold" text-anchor="end" fill="#000" stroke="#000" stroke-width="0.2" >250</text>
<line x1="428.6" y1="237.43" x2="433.4" y2="237.43" stroke="#000" stroke-width="1.2" />
<text x="426.9" y="240.95" font-size="8.1" font-weight="bold" text-anchor="end" fill="#000" stroke="#000" stroke-width="0.2" >300</text>
<line x1="428.6" y1="223.86" x2="433.4" y2="223.86" stroke="#000" stroke-width="1.2" />
<text x="426.9" y="227.37" font-size="8.1" font-weight="bold" text-anchor="end" fill="#000" stroke="#000" stroke-width="0.2" >350</text>
<line x1="428.6" y1="210.28" x2="433.4" y2="210.28" stroke="#000" stroke-width="1.2" />
<text x="426.9" y="213.79" font-size="8.1" font-weight="bold" text-anchor="end" fill="#000" stroke="#000" stroke-width="0.2" >400</text>
<line x1="428.6" y1="196.7" x2="433.4" y2="196.7" stroke="#000" stroke-width="1.2" />
<text x="426.9" y="200.22" font-size="8.1" font-weight="bold" text-anchor="end" fill="#000" stroke="#000" stroke-width="0.2" >450</text>
<line x1="433.4" y1="318.9" x2="612.5" y2="318.9" stroke="#000" stroke-width="1.2" />
<line x1="440.5" y1="318.9" x2="440.5" y2="324.3" stroke="#000" stroke-width="1.2" />
<line x1="479.4" y1="318.9" x2="479.4" y2="324.3" stroke="#000" stroke-width="1.2" />
<line x1="529.6" y1="318.9" x2="529.6" y2="324.3" stroke="#000" stroke-width="1.2" />
<line x1="583.4" y1="318.9" x2="583.4" y2="324.3" stroke="#000" stroke-width="1.2" />
<text x="423.05" y="332.8" font-size="8.15" font-weight="bold" text-anchor="start" fill="#000" stroke="#000" stroke-width="0.2" >Control (-)</text>
<text x="468.05" y="332.8" font-size="8.15" font-weight="bold" text-anchor="start" fill="#000" stroke="#000" stroke-width="0.2" >LPS 1 ng/mL</text>
<text x="529.4" y="332.8" font-size="8.15" font-weight="bold" text-anchor="middle" fill="#000" stroke="#000" stroke-width="0.2" >17</text>
<text x="583.7" y="332.8" font-size="8.15" font-weight="bold" text-anchor="middle" fill="#000" stroke="#000" stroke-width="0.2" >22</text>
<text transform="translate(407.9,258) rotate(-90)" x="0" y="0" font-size="8.5" font-weight="bold" text-anchor="middle">IL-1<tspan font-style="italic" font-weight="normal">α</tspan> (pg/mL)</text>
<rect x="437" y="271" width="7.3" height="47.9" fill="#000"/>
<line x1="440.65" y1="269.5" x2="440.65" y2="271" stroke="#262626" stroke-width="0.9" />
<line x1="438.85" y1="269.5" x2="442.45" y2="269.5" stroke="#262626" stroke-width="0.9" />
<line x1="438.85" y1="271" x2="442.45" y2="271" stroke="#262626" stroke-width="0.9" />
<rect x="475" y="215.3" width="8" height="103.6" fill="url(#dots)"/>
<line x1="479" y1="209.5" x2="479" y2="215.3" stroke="#262626" stroke-width="0.9" />
<line x1="477.2" y1="209.5" x2="480.8" y2="209.5" stroke="#262626" stroke-width="0.9" />
<line x1="477.2" y1="215.3" x2="480.8" y2="215.3" stroke="#262626" stroke-width="0.9" />
<text x="478.6" y="204.64" font-size="6.6" font-weight="normal" text-anchor="middle" fill="#111" stroke="#111" stroke-width="0.2" >###</text>
<rect x="519.4" y="227.6" width="6.9" height="91.3" fill="#d5d5d5"/>
<line x1="522.85" y1="220.3" x2="522.85" y2="235.4" stroke="#262626" stroke-width="0.9" />
<line x1="521.05" y1="220.3" x2="524.65" y2="220.3" stroke="#262626" stroke-width="0.9" />
<line x1="521.05" y1="235.4" x2="524.65" y2="235.4" stroke="#262626" stroke-width="0.9" />
<rect x="526.3" y="229.9" width="7" height="89" fill="#a3a3a3"/>
<line x1="529.8" y1="226.3" x2="529.8" y2="233.7" stroke="#262626" stroke-width="0.9" />
<line x1="528" y1="226.3" x2="531.6" y2="226.3" stroke="#262626" stroke-width="0.9" />
<line x1="528" y1="233.7" x2="531.6" y2="233.7" stroke="#262626" stroke-width="0.9" />
<rect x="533.75" y="231.85" width="6.7" height="86.6" fill="#626262" stroke="#000" stroke-width="0.9"/>
<line x1="537.1" y1="222.3" x2="537.1" y2="240.5" stroke="#262626" stroke-width="0.9" />
<line x1="535.3" y1="222.3" x2="538.9" y2="222.3" stroke="#262626" stroke-width="0.9" />
<line x1="535.3" y1="240.5" x2="538.9" y2="240.5" stroke="#262626" stroke-width="0.9" />
<rect x="541.5" y="255.7" width="5.4" height="62.6" fill="#fff" stroke="#000" stroke-width="1.2"/>
<line x1="544.2" y1="249.3" x2="544.2" y2="259.1" stroke="#262626" stroke-width="0.9" />
<line x1="542.4" y1="249.3" x2="546" y2="249.3" stroke="#262626" stroke-width="0.9" />
<line x1="542.4" y1="259.1" x2="546" y2="259.1" stroke="#262626" stroke-width="0.9" />
<rect x="547.5" y="271.1" width="7.6" height="47.8" fill="#0000ff"/>
<line x1="551.3" y1="267" x2="551.3" y2="274.3" stroke="#262626" stroke-width="0.9" />
<line x1="549.5" y1="267" x2="553.1" y2="267" stroke="#262626" stroke-width="0.9" />
<line x1="549.5" y1="274.3" x2="553.1" y2="274.3" stroke="#262626" stroke-width="0.9" />
<rect x="573" y="225.1" width="7" height="93.8" fill="#d5d5d5"/>
<line x1="576.5" y1="222.4" x2="576.5" y2="227.6" stroke="#262626" stroke-width="0.9" />
<line x1="574.7" y1="222.4" x2="578.3" y2="222.4" stroke="#262626" stroke-width="0.9" />
<line x1="574.7" y1="227.6" x2="578.3" y2="227.6" stroke="#262626" stroke-width="0.9" />
<rect x="580" y="226.1" width="7.2" height="92.8" fill="#a3a3a3"/>
<line x1="583.6" y1="216.9" x2="583.6" y2="234.6" stroke="#262626" stroke-width="0.9" />
<line x1="581.8" y1="216.9" x2="585.4" y2="216.9" stroke="#262626" stroke-width="0.9" />
<line x1="581.8" y1="234.6" x2="585.4" y2="234.6" stroke="#262626" stroke-width="0.9" />
<rect x="587.65" y="231.65" width="6.1" height="86.8" fill="#626262" stroke="#000" stroke-width="0.9"/>
<line x1="590.7" y1="225.4" x2="590.7" y2="236.5" stroke="#262626" stroke-width="0.9" />
<line x1="588.9" y1="225.4" x2="592.5" y2="225.4" stroke="#262626" stroke-width="0.9" />
<line x1="588.9" y1="236.5" x2="592.5" y2="236.5" stroke="#262626" stroke-width="0.9" />
<rect x="594.8" y="236.7" width="6.4" height="81.6" fill="#fff" stroke="#000" stroke-width="1.2"/>
<line x1="598" y1="232.4" x2="598" y2="240" stroke="#262626" stroke-width="0.9" />
<line x1="596.2" y1="232.4" x2="599.8" y2="232.4" stroke="#262626" stroke-width="0.9" />
<line x1="596.2" y1="240" x2="599.8" y2="240" stroke="#262626" stroke-width="0.9" />
<rect x="601.8" y="269.9" width="7.2" height="49" fill="#0000ff"/>
<line x1="605.4" y1="265.2" x2="605.4" y2="274.6" stroke="#262626" stroke-width="0.9" />
<line x1="603.6" y1="265.2" x2="607.2" y2="265.2" stroke="#262626" stroke-width="0.9" />
<line x1="603.6" y1="274.6" x2="607.2" y2="274.6" stroke="#262626" stroke-width="0.9" />
<path d="M543 246.9V244.2H555.1V246.9" fill="none" stroke="#000" stroke-width="1.1"/>
<text x="546.35" y="243.4" font-size="8" font-weight="bold" text-anchor="middle" fill="#1a1a1a" stroke="#1a1a1a" stroke-width="0.2" >*</text>
<text x="550.9" y="243.4" font-size="8" font-weight="bold" text-anchor="middle" fill="#1a1a1a" stroke="#1a1a1a" stroke-width="0.2" >*</text>
<text x="555.45" y="243.4" font-size="8" font-weight="bold" text-anchor="middle" fill="#1a1a1a" stroke="#1a1a1a" stroke-width="0.2" >*</text>
<text x="598.3" y="232" font-size="8" font-weight="bold" text-anchor="middle" fill="#1a1a1a" stroke="#1a1a1a" stroke-width="0.2" >*</text>
<text x="604.45" y="264" font-size="8" font-weight="bold" text-anchor="middle" fill="#1a1a1a" stroke="#1a1a1a" stroke-width="0.2" >*</text>
<text x="608.9" y="264" font-size="8" font-weight="bold" text-anchor="middle" fill="#1a1a1a" stroke="#1a1a1a" stroke-width="0.2" >*</text>
<text x="613.35" y="264" font-size="8" font-weight="bold" text-anchor="middle" fill="#1a1a1a" stroke="#1a1a1a" stroke-width="0.2" >*</text>
<rect x="620" y="257.3" width="13" height="5" fill="#d5d5d5"/>
<text x="639.6" y="263" font-size="7.8" fill="#000" stroke="#000" stroke-width="0.2">0.1 <tspan dx="1.01" font-size="7.8" font-style="italic">μM</tspan></text>
<rect x="620" y="268.45" width="13" height="5" fill="#a3a3a3"/>
<text x="639.6" y="274.15" font-size="7.8" fill="#000" stroke="#000" stroke-width="0.2">1 <tspan dx="1.01" font-size="7.8" font-style="italic">μM</tspan></text>
<rect x="620.55" y="280.15" width="11.9" height="3.9" fill="#626262" stroke="#000" stroke-width="1.1"/>
<text x="639.6" y="285.3" font-size="7.8" fill="#000" stroke="#000" stroke-width="0.2">5 <tspan dx="1.01" font-size="7.8" font-style="italic">μM</tspan></text>
<rect x="620.6" y="291.35" width="11.8" height="3.8" fill="#fff" stroke="#000" stroke-width="1.2"/>
<text x="639.6" y="296.45" font-size="7.8" fill="#000" stroke="#000" stroke-width="0.2">10 <tspan dx="1.01" font-size="7.8" font-style="italic">μM</tspan></text>
<rect x="620" y="301.9" width="13" height="5" fill="#0000ff"/>
<text x="639.6" y="307.6" font-size="7.8" fill="#000" stroke="#000" stroke-width="0.2">20 <tspan dx="1.01" font-size="7.8" font-style="italic">μM</tspan></text>
<line x1="434.7" y1="359.9" x2="434.7" y2="494.4" stroke="#000" stroke-width="1.2" />
<line x1="429.8" y1="493.8" x2="434.7" y2="493.8" stroke="#000" stroke-width="1.2" />
<text x="428.2" y="497.3" font-size="8.6" font-weight="bold" text-anchor="end" fill="#000" stroke="#000" stroke-width="0.2" >0</text>
<line x1="429.8" y1="478.99" x2="434.7" y2="478.99" stroke="#000" stroke-width="1.2" />
<text x="428.2" y="482.48" font-size="8.6" font-weight="bold" text-anchor="end" fill="#000" stroke="#000" stroke-width="0.2" >100</text>
<line x1="429.8" y1="464.18" x2="434.7" y2="464.18" stroke="#000" stroke-width="1.2" />
<text x="428.2" y="467.67" font-size="8.6" font-weight="bold" text-anchor="end" fill="#000" stroke="#000" stroke-width="0.2" >200</text>
<line x1="429.8" y1="449.37" x2="434.7" y2="449.37" stroke="#000" stroke-width="1.2" />
<text x="428.2" y="452.86" font-size="8.6" font-weight="bold" text-anchor="end" fill="#000" stroke="#000" stroke-width="0.2" >300</text>
<line x1="429.8" y1="434.56" x2="434.7" y2="434.56" stroke="#000" stroke-width="1.2" />
<text x="428.2" y="438.05" font-size="8.6" font-weight="bold" text-anchor="end" fill="#000" stroke="#000" stroke-width="0.2" >400</text>
<line x1="429.8" y1="419.74" x2="434.7" y2="419.74" stroke="#000" stroke-width="1.2" />
<text x="428.2" y="423.24" font-size="8.6" font-weight="bold" text-anchor="end" fill="#000" stroke="#000" stroke-width="0.2" >500</text>
<line x1="429.8" y1="404.93" x2="434.7" y2="404.93" stroke="#000" stroke-width="1.2" />
<text x="428.2" y="408.43" font-size="8.6" font-weight="bold" text-anchor="end" fill="#000" stroke="#000" stroke-width="0.2" >600</text>
<line x1="429.8" y1="390.12" x2="434.7" y2="390.12" stroke="#000" stroke-width="1.2" />
<text x="428.2" y="393.62" font-size="8.6" font-weight="bold" text-anchor="end" fill="#000" stroke="#000" stroke-width="0.2" >700</text>
<line x1="429.8" y1="375.31" x2="434.7" y2="375.31" stroke="#000" stroke-width="1.2" />
<text x="428.2" y="378.81" font-size="8.6" font-weight="bold" text-anchor="end" fill="#000" stroke="#000" stroke-width="0.2" >800</text>
<line x1="429.8" y1="360.5" x2="434.7" y2="360.5" stroke="#000" stroke-width="1.2" />
<text x="428.2" y="364" font-size="8.6" font-weight="bold" text-anchor="end" fill="#000" stroke="#000" stroke-width="0.2" >900</text>
<line x1="434.7" y1="493.8" x2="607.8" y2="493.8" stroke="#000" stroke-width="1.2" />
<line x1="440.8" y1="493.8" x2="440.8" y2="499.2" stroke="#000" stroke-width="1.2" />
<line x1="482.5" y1="493.8" x2="482.5" y2="499.2" stroke="#000" stroke-width="1.2" />
<line x1="531.6" y1="493.8" x2="531.6" y2="499.2" stroke="#000" stroke-width="1.2" />
<line x1="580.7" y1="493.8" x2="580.7" y2="499.2" stroke="#000" stroke-width="1.2" />
<text x="423.25" y="508.8" font-size="8.55" font-weight="bold" text-anchor="start" fill="#000" stroke="#000" stroke-width="0.2" >Control (-)</text>
<text x="469.2" y="508.8" font-size="8.55" font-weight="bold" text-anchor="start" fill="#000" stroke="#000" stroke-width="0.2" >LPS 1 ng/mL</text>
<text x="531.8" y="508.8" font-size="8.55" font-weight="bold" text-anchor="middle" fill="#000" stroke="#000" stroke-width="0.2" >17</text>
<text x="580.85" y="508.8" font-size="8.55" font-weight="bold" text-anchor="middle" fill="#000" stroke="#000" stroke-width="0.2" >22</text>
<text transform="translate(408.2,426.8) rotate(-90)" x="0" y="0" font-size="8.8" font-weight="bold" text-anchor="middle">IL-6 (pg/mL)</text>
<rect x="437.9" y="455.1" width="6.6" height="38.7" fill="#000"/>
<line x1="441.2" y1="451.5" x2="441.2" y2="455.1" stroke="#262626" stroke-width="0.9" />
<line x1="439.4" y1="451.5" x2="443" y2="451.5" stroke="#262626" stroke-width="0.9" />
<line x1="439.4" y1="455.1" x2="443" y2="455.1" stroke="#262626" stroke-width="0.9" />
<rect x="479" y="387.1" width="7" height="106.7" fill="url(#dots)"/>
<line x1="482.5" y1="378.8" x2="482.5" y2="387.1" stroke="#262626" stroke-width="0.9" />
<line x1="480.7" y1="378.8" x2="484.3" y2="378.8" stroke="#262626" stroke-width="0.9" />
<line x1="480.7" y1="387.1" x2="484.3" y2="387.1" stroke="#262626" stroke-width="0.9" />
<text x="481.7" y="372.74" font-size="6.6" font-weight="normal" text-anchor="middle" fill="#111" stroke="#111" stroke-width="0.2" >###</text>
<rect x="521.8" y="391" width="7" height="102.8" fill="#d5d5d5"/>
<line x1="525.3" y1="381.6" x2="525.3" y2="400.3" stroke="#262626" stroke-width="0.9" />
<line x1="523.5" y1="381.6" x2="527.1" y2="381.6" stroke="#262626" stroke-width="0.9" />
<line x1="523.5" y1="400.3" x2="527.1" y2="400.3" stroke="#262626" stroke-width="0.9" />
<rect x="528.8" y="409" width="6.7" height="84.8" fill="#a3a3a3"/>
<line x1="532.15" y1="405.5" x2="532.15" y2="412.5" stroke="#262626" stroke-width="0.9" />
<line x1="530.35" y1="405.5" x2="533.95" y2="405.5" stroke="#262626" stroke-width="0.9" />
<line x1="530.35" y1="412.5" x2="533.95" y2="412.5" stroke="#262626" stroke-width="0.9" />
<rect x="535.95" y="422.55" width="5.2" height="70.8" fill="#626262" stroke="#000" stroke-width="0.9"/>
<line x1="538.55" y1="419.5" x2="538.55" y2="424.7" stroke="#262626" stroke-width="0.9" />
<line x1="536.75" y1="419.5" x2="540.35" y2="419.5" stroke="#262626" stroke-width="0.9" />
<line x1="536.75" y1="424.7" x2="540.35" y2="424.7" stroke="#262626" stroke-width="0.9" />
<rect x="542.2" y="442.8" width="5.2" height="50.4" fill="#fff" stroke="#000" stroke-width="1.2"/>
<line x1="544.8" y1="439.2" x2="544.8" y2="445.2" stroke="#262626" stroke-width="0.9" />
<line x1="543" y1="439.2" x2="546.6" y2="439.2" stroke="#262626" stroke-width="0.9" />
<line x1="543" y1="445.2" x2="546.6" y2="445.2" stroke="#262626" stroke-width="0.9" />
<rect x="548" y="454.9" width="7" height="38.9" fill="#0000ff"/>
<line x1="551.5" y1="451.8" x2="551.5" y2="458" stroke="#262626" stroke-width="0.9" />
<line x1="549.7" y1="451.8" x2="553.3" y2="451.8" stroke="#262626" stroke-width="0.9" />
<line x1="549.7" y1="458" x2="553.3" y2="458" stroke="#262626" stroke-width="0.9" />
<rect x="571" y="388.4" width="6.9" height="105.4" fill="#d5d5d5"/>
<line x1="574.45" y1="381.6" x2="574.45" y2="395.6" stroke="#262626" stroke-width="0.9" />
<line x1="572.65" y1="381.6" x2="576.25" y2="381.6" stroke="#262626" stroke-width="0.9" />
<line x1="572.65" y1="395.6" x2="576.25" y2="395.6" stroke="#262626" stroke-width="0.9" />
<rect x="577.9" y="401.2" width="6.4" height="92.6" fill="#a3a3a3"/>
<line x1="581.1" y1="398.2" x2="581.1" y2="403.8" stroke="#262626" stroke-width="0.9" />
<line x1="579.3" y1="398.2" x2="582.9" y2="398.2" stroke="#262626" stroke-width="0.9" />
<line x1="579.3" y1="403.8" x2="582.9" y2="403.8" stroke="#262626" stroke-width="0.9" />
<rect x="584.75" y="410.35" width="5.6" height="83" fill="#626262" stroke="#000" stroke-width="0.9"/>
<line x1="587.55" y1="405.2" x2="587.55" y2="414.8" stroke="#262626" stroke-width="0.9" />
<line x1="585.75" y1="405.2" x2="589.35" y2="405.2" stroke="#262626" stroke-width="0.9" />
<line x1="585.75" y1="414.8" x2="589.35" y2="414.8" stroke="#262626" stroke-width="0.9" />
<rect x="591.4" y="432.3" width="5.4" height="60.9" fill="#fff" stroke="#000" stroke-width="1.2"/>
<line x1="594.1" y1="427" x2="594.1" y2="435.2" stroke="#262626" stroke-width="0.9" />
<line x1="592.3" y1="427" x2="595.9" y2="427" stroke="#262626" stroke-width="0.9" />
<line x1="592.3" y1="435.2" x2="595.9" y2="435.2" stroke="#262626" stroke-width="0.9" />
<rect x="597.4" y="444.8" width="6.6" height="49" fill="#0000ff"/>
<line x1="600.7" y1="442.6" x2="600.7" y2="447" stroke="#262626" stroke-width="0.9" />
<line x1="598.9" y1="442.6" x2="602.5" y2="442.6" stroke="#262626" stroke-width="0.9" />
<line x1="598.9" y1="447" x2="602.5" y2="447" stroke="#262626" stroke-width="0.9" />
<path d="M531.3 402V398.4H554.6V402" fill="none" stroke="#000" stroke-width="1.1"/>
<text x="537.75" y="398.1" font-size="8" font-weight="bold" text-anchor="middle" fill="#1a1a1a" stroke="#1a1a1a" stroke-width="0.2" >*</text>
<text x="542.5" y="398.1" font-size="8" font-weight="bold" text-anchor="middle" fill="#1a1a1a" stroke="#1a1a1a" stroke-width="0.2" >*</text>
<text x="547.25" y="398.1" font-size="8" font-weight="bold" text-anchor="middle" fill="#1a1a1a" stroke="#1a1a1a" stroke-width="0.2" >*</text>
<text x="581.3" y="393.9" font-size="8" font-weight="bold" text-anchor="middle" fill="#1a1a1a" stroke="#1a1a1a" stroke-width="0.2" >*</text>
<text x="586" y="393.9" font-size="8" font-weight="bold" text-anchor="middle" fill="#1a1a1a" stroke="#1a1a1a" stroke-width="0.2" >*</text>
<path d="M587.3 401.5V398H605.4V401.5" fill="none" stroke="#000" stroke-width="1.1"/>
<text x="593.3" y="398.1" font-size="8" font-weight="bold" text-anchor="middle" fill="#1a1a1a" stroke="#1a1a1a" stroke-width="0.2" >*</text>
<text x="597.9" y="398.1" font-size="8" font-weight="bold" text-anchor="middle" fill="#1a1a1a" stroke="#1a1a1a" stroke-width="0.2" >*</text>
<text x="602.5" y="398.1" font-size="8" font-weight="bold" text-anchor="middle" fill="#1a1a1a" stroke="#1a1a1a" stroke-width="0.2" >*</text>
<rect x="616.4" y="428.5" width="13.2" height="5" fill="#d5d5d5"/>
<text x="637" y="434.4" font-size="8.3" fill="#000" stroke="#000" stroke-width="0.2">0.1 <tspan dx="1.08" font-size="8.3" font-style="italic">μM</tspan></text>
<rect x="616.4" y="440.9" width="13.2" height="5" fill="#a3a3a3"/>
<text x="637" y="446.8" font-size="8.3" fill="#000" stroke="#000" stroke-width="0.2">1 <tspan dx="1.08" font-size="8.3" font-style="italic">μM</tspan></text>
<rect x="616.95" y="453.85" width="12.1" height="3.9" fill="#626262" stroke="#000" stroke-width="1.1"/>
<text x="637" y="459.2" font-size="8.3" fill="#000" stroke="#000" stroke-width="0.2">5 <tspan dx="1.08" font-size="8.3" font-style="italic">μM</tspan></text>
<rect x="617" y="466.3" width="12" height="3.8" fill="#fff" stroke="#000" stroke-width="1.2"/>
<text x="637" y="471.6" font-size="8.3" fill="#000" stroke="#000" stroke-width="0.2">10 <tspan dx="1.08" font-size="8.3" font-style="italic">μM</tspan></text>
<rect x="616.4" y="478.1" width="13.2" height="5" fill="#0000ff"/>
<text x="637" y="484" font-size="8.3" fill="#000" stroke="#000" stroke-width="0.2">20 <tspan dx="1.08" font-size="8.3" font-style="italic">μM</tspan></text>
</svg>
</body></html>
